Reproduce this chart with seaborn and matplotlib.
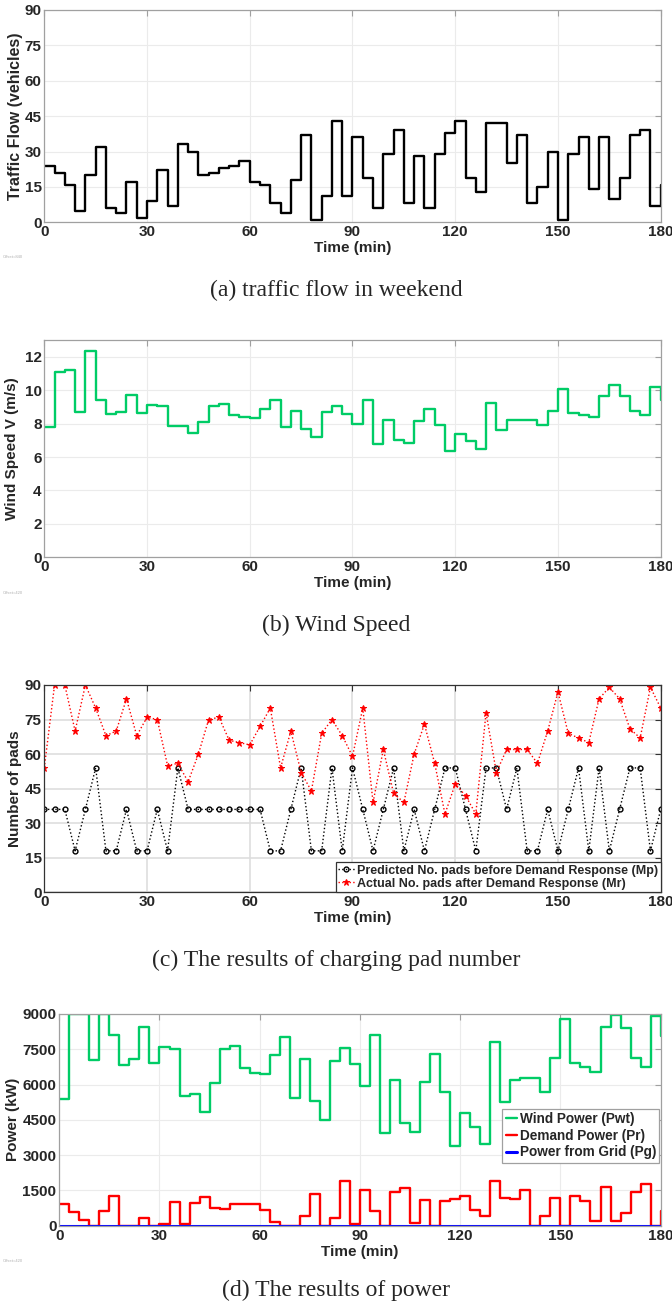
import numpy as np
import pandas as pd
import seaborn as sns
import matplotlib.pyplot as plt

# time axis: one value every 3 minutes, last entry closes the final step
time_min = list(range(0, 181, 3))

traffic_flow = [24, 21, 16, 5, 20, 32, 6, 4, 17, 2, 9, 22, 7, 33, 30, 20, 21, 23, 24, 26,
                17, 16, 8, 4, 18, 37, 1, 11, 43, 11, 36, 19, 6, 29, 39, 8, 28, 6, 29, 38,
                43, 19, 13, 42, 42, 25, 37, 8, 15, 30, 1, 29, 36, 14, 36, 10, 19, 37, 39, 7, 16]

wind_speed = [7.8, 11.06, 11.2, 8.7, 12.35, 9.4, 8.6, 8.7, 9.7, 8.64, 9.1, 9.05, 7.84, 7.88, 7.42,
              8.12, 9.04, 9.14, 8.52, 8.42,
              8.36, 8.86, 9.38, 7.78, 8.74, 7.66, 7.18, 8.7, 9.04, 8.6, 8.0, 9.38, 6.78, 8.2, 7.04,
              6.84, 8.14, 8.9, 7.9, 6.38,
              7.36, 6.96, 6.46, 9.2, 7.64, 8.2, 8.24, 8.2, 7.9, 8.74, 10.04, 8.62, 8.5, 8.4, 9.64,
              10.3, 9.66, 8.76, 8.5, 10.18, 9.4]

pads_predicted = [36, 36, 36, 18, 36, 54, 18, 18, 36, 18, 18, 36, 18, 54, 36, 36, 36, 36, 36, 36,
                  36, 36, 18, 18, 36, 54, 18, 18, 54, 18, 54, 36, 18, 36, 54, 18, 36, 18, 36, 54,
                  54, 36, 18, 54, 54, 36, 54, 18, 18, 36, 18, 36, 54, 18, 54, 18, 36, 54, 54, 18, 36]

pads_actual = [54, 90, 90, 70, 90, 80, 68, 70, 84, 68, 76, 75, 55, 56, 48, 60, 75, 76, 66, 65,
               64, 72, 80, 54, 70, 52, 44, 69, 75, 68, 59, 80, 39, 62, 43, 39, 60, 73, 56, 34,
               47, 42, 34, 78, 52, 62, 62, 62, 56, 70, 87, 69, 67, 65, 84, 89, 84, 71, 67, 89, 80]

wind_power = [5400, 9000, 9000, 7050, 9000, 8100, 6830, 7070, 8460, 6900, 7600, 7520, 5530, 5610,
              4830, 6070, 7510, 7650, 6720, 6500,
              6430, 7240, 8030, 5440, 7100, 5290, 4490, 7000, 7550, 6860, 5940, 8090, 3930, 6210,
              4350, 4000, 6110, 7280, 5680, 3400,
              4790, 4190, 3490, 7790, 5270, 6210, 6260, 6260, 5680, 7110, 8770, 6930, 6730, 6550,
              8430, 8950, 8420, 7140, 6750, 8930, 8080]

demand_power = [910, 580, 260, 0, 610, 1250, 0, 0, 310, 0, 70, 1010, 70, 960, 1200, 770, 720, 910,
                940, 940,
                670, 160, 0, 0, 420, 1360, 0, 310, 1910, 70, 1520, 620, 0, 1430, 1600, 110, 1100, 0,
                1030, 1130,
                1260, 670, 410, 1900, 1190, 1130, 1500, 0, 400, 1180, 0, 1280, 1060, 180, 1640, 200,
                540, 1450, 1790, 0, 610]

grid_power = [0] * len(time_min)

GREEN = '#00cc66'

sns.set_style('white')
plt.rcParams['font.family'] = ['Liberation Sans', 'DejaVu Sans']
plt.rcParams['font.weight'] = 'bold'
plt.rcParams['axes.labelweight'] = 'bold'


def matlab_axes(ax, yticks, ylim, frame='#a0a0a0', grid='#ebebeb', grid_lw=0.8):
    ax.set_xlim(0, 180)
    ax.set_ylim(*ylim)
    ax.set_xticks(range(0, 181, 30))
    ax.set_yticks(yticks)
    ax.grid(True, color=grid, lw=grid_lw)
    ax.set_axisbelow(True)
    for s in ax.spines.values():
        s.set_visible(True)
        s.set_color(frame)
        s.set_linewidth(0.9)
    ax.tick_params(direction='in', length=4, width=0.8, color=frame, top=True, right=True,
                   labelsize=11, pad=2)
    for lab in ax.get_xticklabels() + ax.get_yticklabels():
        lab.set_fontweight('bold')
    ax.set_xlabel('Time (min)', fontsize=11, labelpad=1.5)


fig = plt.figure(figsize=(6.72, 13.08), dpi=100)

# (a) traffic flow
ax_a = fig.add_axes([0.0659, 0.8300, 0.9173, 0.1624])
sns.lineplot(x=time_min, y=traffic_flow, ax=ax_a, color='black', lw=1.7, drawstyle='steps-post')
matlab_axes(ax_a, range(0, 91, 15), (0, 90))
ax_a.set_ylabel('Traffic Flow (vehicles)', fontsize=11.5, labelpad=1)

# (b) wind speed
ax_b = fig.add_axes([0.0659, 0.5739, 0.9173, 0.1662])
sns.lineplot(x=time_min, y=wind_speed, ax=ax_b, color=GREEN, lw=1.7, drawstyle='steps-post')
matlab_axes(ax_b, range(0, 13, 2), (0, 13))
ax_b.set_ylabel('Wind Speed V (m/s)', fontsize=11, labelpad=4)

# (c) charging pads
ax_c = fig.add_axes([0.0659, 0.3178, 0.9173, 0.1585])
sns.lineplot(x=time_min, y=pads_predicted, ax=ax_c, color='black', lw=1.0, linestyle=':',
             marker='o', markersize=3.5, markerfacecolor='none', markeredgecolor='black',
             markeredgewidth=1.0, label='Predicted No. pads before Demand Response (Mp)')
sns.lineplot(x=time_min, y=pads_actual, ax=ax_c, color='red', lw=1.0, linestyle=':',
             marker='*', markersize=5, markerfacecolor='red', markeredgecolor='red',
             label='Actual No. pads after Demand Response (Mr)')
matlab_axes(ax_c, range(0, 91, 15), (0, 90), frame='#333333', grid='#dedede', grid_lw=1.2)
ax_c.set_ylabel('Number of pads', fontsize=11, labelpad=2)
leg = ax_c.legend(loc='lower right', fontsize=9, handlelength=1.3, handletextpad=0.2,
                  borderpad=0.2, borderaxespad=0, labelspacing=0.1, fancybox=False,
                  framealpha=1, edgecolor='#333333')
leg.get_frame().set_linewidth(0.9)
for t in leg.get_texts():
    t.set_fontweight('bold')

# (d) power
ax_d = fig.add_axes([0.0882, 0.0629, 0.8949, 0.1619])
sns.lineplot(x=time_min, y=wind_power, ax=ax_d, color=GREEN, lw=1.7, drawstyle='steps-post',
             label='Wind Power (Pwt)')
sns.lineplot(x=time_min, y=demand_power, ax=ax_d, color='red', lw=1.7, drawstyle='steps-post',
             label='Demand Power (Pr)')
sns.lineplot(x=time_min, y=grid_power, ax=ax_d, color='blue', lw=2.2, drawstyle='steps-post',
             label='Power from Grid (Pg)')
matlab_axes(ax_d, range(0, 9001, 1500), (0, 9000))
ax_d.set_ylabel('Power (kW)', fontsize=11, labelpad=2)
leg = ax_d.legend(loc='center right', bbox_to_anchor=(1.0, 0.425), fontsize=9.8,
                  handlelength=0.8, handletextpad=0.2, borderpad=0.25, labelspacing=0.2,
                  borderaxespad=0.1, fancybox=False, framealpha=1, edgecolor='#a0a0a0')
leg.get_frame().set_linewidth(0.9)
for t in leg.get_texts():
    t.set_fontweight('bold')

# captions
captions = ['(a) traffic flow in weekend', '(b) Wind Speed',
            '(c) The results of charging pad number', '(d) The results of power']
caption_y = [290, 625, 960, 1290]
for text, y in zip(captions, caption_y):
    fig.text(0.5, 1 - y / 1308, text, ha='center', va='center', fontsize=17,
             family='Liberation Serif', fontweight='normal')

# tiny export stamps in the corners
for label, y in [('Offset=840', 258), ('Offset=420', 594), ('Offset=420', 1262)]:
    fig.text(3 / 672, 1 - y / 1308, label, fontsize=3, color='#b0b0b0', fontweight='normal')

fig.savefig('out.png', dpi=100)
